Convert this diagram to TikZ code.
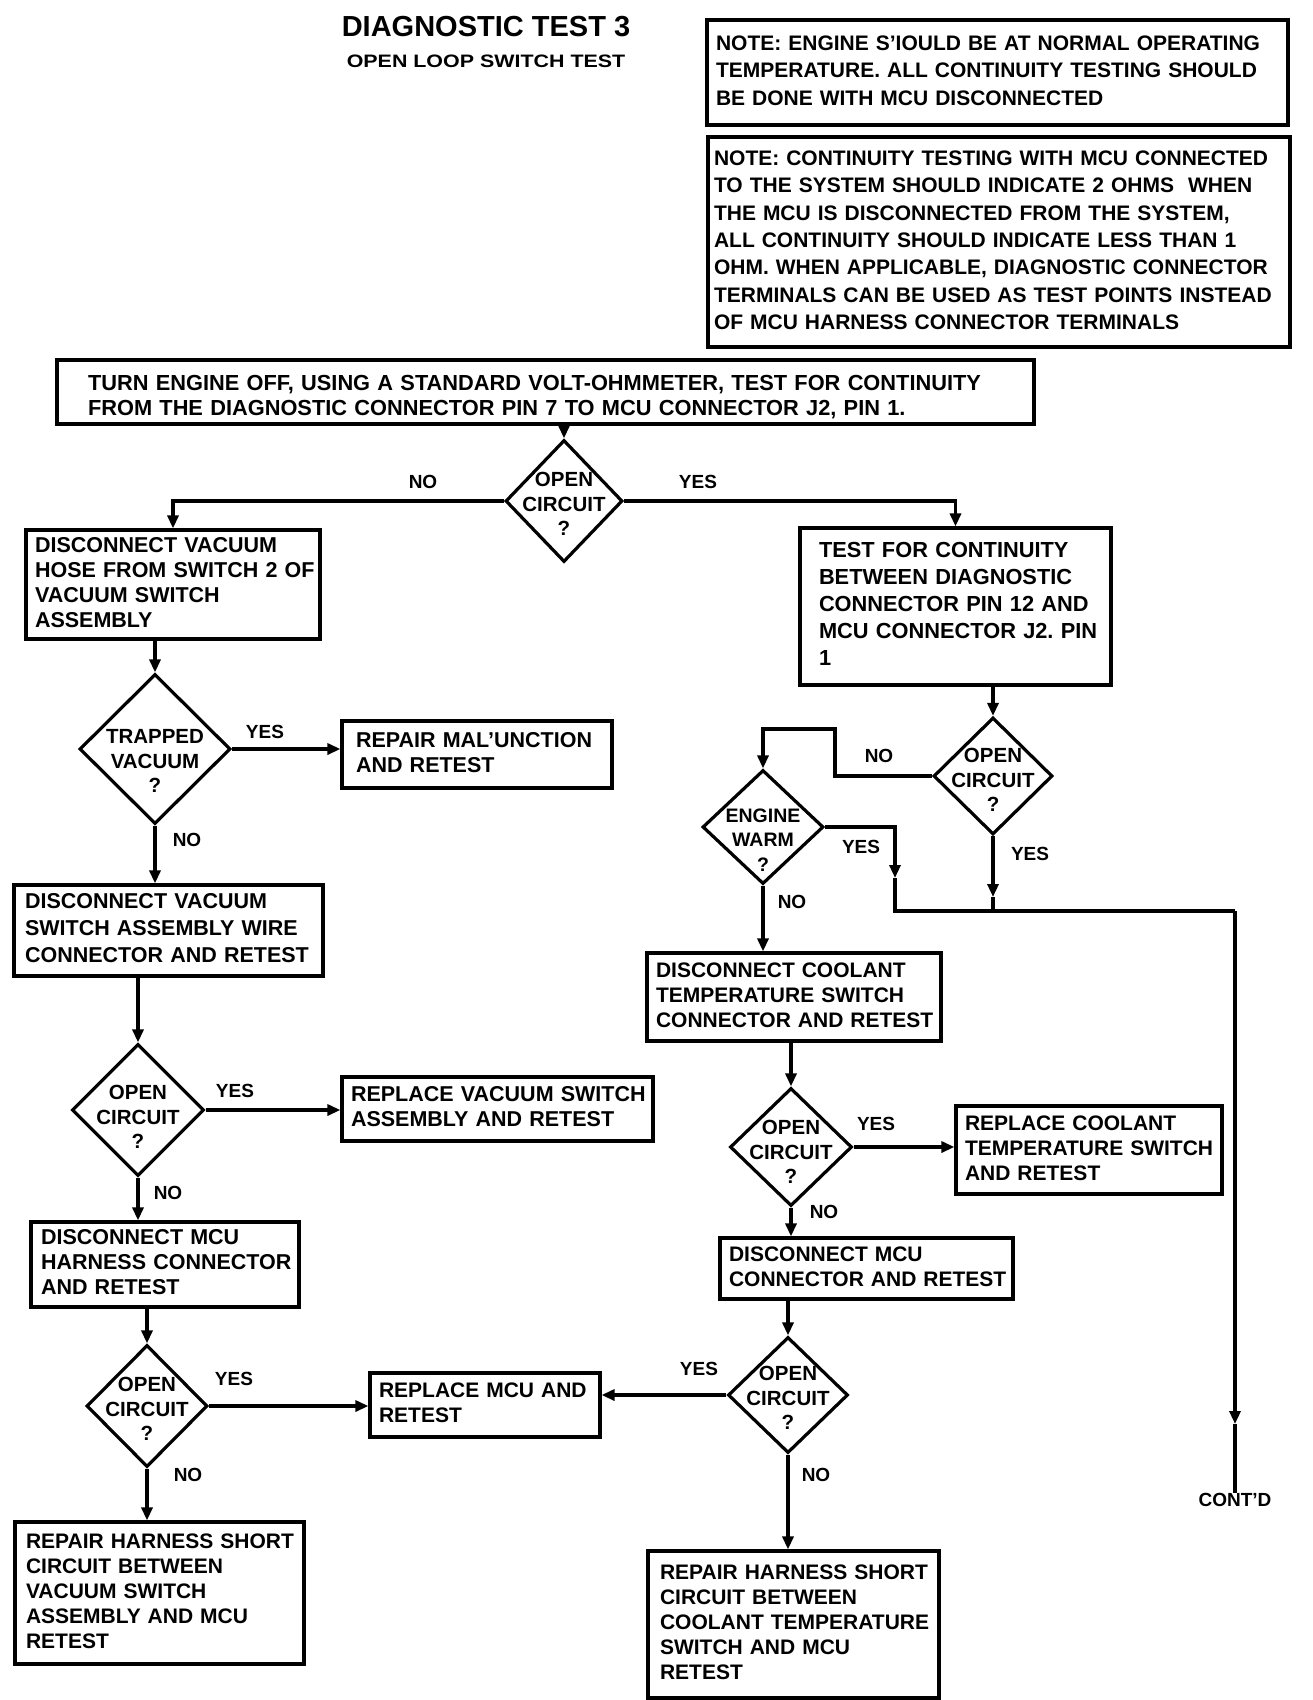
\documentclass[tikz,border=0pt]{standalone}
\usepackage{fontspec}
\usepackage{graphicx}
\setmainfont{Liberation Sans}
\usetikzlibrary{arrows.meta,shapes.geometric,calc}
\newcommand\tlines[1]{\begin{tabular}{@{}l@{}}#1\end{tabular}}
\tikzset{
  ln/.style={line width=3.2pt},
  arr/.style={line width=3.2pt,-{Triangle[length=13pt,width=11pt]}},
  box/.style={draw,line width=3.2pt,inner xsep=9pt,inner ysep=0pt,align=left,
    font=\fontsize{21.5}{25}\selectfont\bfseries\frenchspacing},
  rbox/.style={box,font=\fontsize{21}{25}\selectfont\bfseries\frenchspacing},
  notebox/.style={box,font=\fontsize{21}{27.3}\selectfont\bfseries\frenchspacing},
  dia/.style={draw,diamond,line width=3.2pt,inner sep=0pt},
  dtext/.style={align=center,inner sep=0pt,font=\fontsize{20.5}{24.5}\selectfont\bfseries},
  lbl/.style={inner sep=0pt,font=\fontsize{19}{22}\selectfont\bfseries},
}
\begin{document}
\begin{tikzpicture}[x=1pt,y=-1pt]
\useasboundingbox[fill=white] (0,0) rectangle (1312,1700);

% title
\node[inner sep=0pt,font=\fontsize{29}{32}\selectfont\bfseries] (title) at (486,27) {DIAGNOSTIC TEST 3};
\node[inner sep=0pt,font=\fontsize{18}{22}\selectfont\bfseries] (subtitle) at (486,61) {\scalebox{1.19}[1]{OPEN LOOP SWITCH TEST}};

% notes
\node[notebox,minimum width=581pt,minimum height=105pt,text width=563pt] (note1) at (997.5,72.5)
 {\tlines{NOTE: ENGINE S'IOULD BE AT NORMAL OPERATING\\TEMPERATURE. ALL CONTINUITY TESTING SHOULD\\BE DONE WITH MCU DISCONNECTED}};
\node[notebox,inner xsep=6pt,minimum width=582pt,minimum height=210pt,text width=570pt] (note2) at (999,242)
 {\tlines{NOTE: CONTINUITY TESTING WITH MCU CONNECTED\\TO THE SYSTEM SHOULD INDICATE 2 OHMS\ \ WHEN\\THE MCU IS DISCONNECTED FROM THE SYSTEM,\\ALL CONTINUITY SHOULD INDICATE LESS THAN 1\\OHM. WHEN APPLICABLE, DIAGNOSTIC CONNECTOR\\TERMINALS CAN BE USED AS TEST POINTS INSTEAD\\OF MCU HARNESS CONNECTOR TERMINALS}};

% top box
\node[box,inner xsep=31pt,font=\fontsize{21.8}{25}\selectfont\bfseries\frenchspacing,minimum width=977pt,minimum height=64pt,text width=915pt] (top) at (545.5,392)
 {\raisebox{-6pt}[\height][\depth]{\tlines{TURN ENGINE OFF, USING A STANDARD VOLT-OHMMETER, TEST FOR CONTINUITY\\FROM THE DIAGNOSTIC CONNECTOR PIN 7 TO MCU CONNECTOR J2, PIN 1.}}};

% diamonds
\node[dia,minimum width=117pt,minimum height=122pt] (d1) at (564,501) {};
\node[dtext] (d1t) at ([yshift=-3pt]d1.center) {OPEN\\CIRCUIT\\?};
\node[dia,minimum width=151pt,minimum height=150pt] (dt) at (155,749) {};
\node[dtext] (dtt) at ([yshift=-12pt]dt.center) {TRAPPED\\VACUUM\\?};
\node[dia,minimum width=132pt,minimum height=132pt] (d2) at (138,1110) {};
\node[dtext] (d2t) at ([yshift=-7pt]d2.center) {OPEN\\CIRCUIT\\?};
\node[dia,minimum width=121pt,minimum height=122pt] (d3) at (147,1406) {};
\node[dtext] (d3t) at ([yshift=-3pt]d3.center) {OPEN\\CIRCUIT\\?};
\node[dia,minimum width=119pt,minimum height=117pt] (r1) at (993,776) {};
\node[dtext] (r1t) at ([yshift=-4pt]r1.center) {OPEN\\CIRCUIT\\?};
\node[dia,minimum width=121pt,minimum height=114pt] (ew) at (763,827) {};
\node[dtext,font=\fontsize{19.5}{24.5}\selectfont\bfseries] (ewt) at ([yshift=-13pt]ew.center) {ENGINE\\WARM\\?};
\node[dia,minimum width=122pt,minimum height=118pt] (d4) at (791,1147) {};
\node[dtext] (d4t) at ([yshift=-5pt]d4.center) {OPEN\\CIRCUIT\\?};
\node[dia,minimum width=120pt,minimum height=116pt] (d5) at (788,1395) {};
\node[dtext] (d5t) at ([yshift=-3pt]d5.center) {OPEN\\CIRCUIT\\?};

% left column boxes
\node[box,minimum width=294pt,minimum height=109pt,text width=276pt] (b1) at (173,584.5)
 {\tlines{DISCONNECT VACUUM\\HOSE FROM SWITCH 2 OF\\VACUUM SWITCH\\ASSEMBLY}};
\node[box,inner xsep=14pt,minimum width=270pt,minimum height=67pt,text width=242pt] (rm) at (477,754.5)
 {\tlines{REPAIR MAL'UNCTION\\AND RETEST}};
\node[box,inner xsep=11pt,font=\fontsize{21.5}{27}\selectfont\bfseries,minimum width=309pt,minimum height=91pt,text width=287pt] (b3) at (168.5,930.5)
 {\tlines{DISCONNECT VACUUM\\SWITCH ASSEMBLY WIRE\\CONNECTOR AND RETEST}};
\node[box,minimum width=311pt,minimum height=64pt,text width=293pt] (rvs) at (497.5,1109)
 {\tlines{REPLACE VACUUM SWITCH\\ASSEMBLY AND RETEST}};
\node[box,inner xsep=10pt,minimum width=268pt,minimum height=85pt,text width=248pt] (b4) at (165,1264.5)
 {\tlines{DISCONNECT MCU\\HARNESS CONNECTOR\\AND RETEST}};
\node[rbox,minimum width=230pt,minimum height=64pt,text width=212pt] (rmcu) at (485,1405)
 {\tlines{REPLACE MCU AND\\RETEST}};
\node[rbox,inner xsep=11pt,minimum width=289pt,minimum height=142pt,text width=267pt] (rh1) at (159.5,1593)
 {\tlines{REPAIR HARNESS SHORT\\CIRCUIT BETWEEN\\VACUUM SWITCH\\ASSEMBLY AND MCU\\RETEST}};

% right column boxes
\node[box,inner xsep=19pt,font=\fontsize{21.8}{27}\selectfont\bfseries\frenchspacing,minimum width=311pt,minimum height=157pt,text width=273pt] (b2) at (955.5,606.5)
 {\tlines{TEST FOR CONTINUITY\\BETWEEN DIAGNOSTIC\\CONNECTOR PIN 12 AND\\MCU CONNECTOR J2. PIN\\1}};
\node[rbox,minimum width=294pt,minimum height=88pt,text width=276pt] (b5) at (794,997)
 {\tlines{DISCONNECT COOLANT\\TEMPERATURE SWITCH\\CONNECTOR AND RETEST}};
\node[rbox,minimum width=266pt,minimum height=88pt,text width=248pt] (rc) at (1089,1150)
 {\tlines{REPLACE COOLANT\\TEMPERATURE SWITCH\\AND RETEST}};
\node[rbox,minimum width=293pt,minimum height=61pt,text width=275pt] (b6) at (866.5,1268.5)
 {\tlines{DISCONNECT MCU\\CONNECTOR AND RETEST}};
\node[rbox,inner xsep=12pt,minimum width=291pt,minimum height=147pt,text width=267pt] (rh2) at (793.5,1624.5)
 {\tlines{REPAIR HARNESS SHORT\\CIRCUIT BETWEEN\\COOLANT TEMPERATURE\\SWITCH AND MCU\\RETEST}};

\node[lbl] (contd) at (1235,1500) {CONT'D};

% helper coordinates
\coordinate (c1) at (835,729);
\coordinate (jA) at (895,878);
\coordinate (jB) at (895,911);
\coordinate (jC) at (993,897);
\coordinate (jD) at (993,911);
\coordinate (jE) at (1235,911);
\coordinate (jF) at (1235,1424);

% connectors
\draw[arr] (d1.north |- top.south) -- (d1.north);
\draw[arr] (d1.west) -| (b1.north);
\draw[arr] (d1.east) -| (b2.north);
\draw[arr] (dt.north |- b1.south) -- (dt.north);
\draw[arr] (dt.east) -- (dt.east -| rm.west);
\draw[arr] (dt.south) -- (dt.south |- b3.north);
\draw[arr] (d2.north |- b3.south) -- (d2.north);
\draw[arr] (d2.east) -- (d2.east -| rvs.west);
\draw[arr] (d2.south) -- (d2.south |- b4.north);
\draw[arr] (d3.north |- b4.south) -- (d3.north);
\draw[arr] (d3.east) -- (d3.east -| rmcu.west);
\draw[arr] (d3.south) -- (d3.south |- rh1.north);

\draw[arr] (r1.north |- b2.south) -- (r1.north);
\draw[arr] (r1.west) -| (c1) -| (ew.north);
\draw[arr] (ew.east) -| (jA);
\draw[ln] (jA) -- (jB) -- (jE);
\draw[arr] (r1.south) -- (jC);
\draw[ln] (jC) -- (jD);
\draw[arr] (jE) -- (jF);
\draw[ln] (jF) -- (contd.north);
\draw[arr] (ew.south) -- (ew.south |- b5.north);
\draw[arr] (d4.north |- b5.south) -- (d4.north);
\draw[arr] (d4.east) -- (d4.east -| rc.west);
\draw[arr] (d4.south) -- (d4.south |- b6.north);
\draw[arr] (d5.north |- b6.south) -- (d5.north);
\draw[arr] (d5.west) -- (d5.west -| rmcu.east);
\draw[arr] (d5.south) -- (d5.south |- rh2.north);

% labels
\node[lbl] (l1) at (423,482) {NO};
\node[lbl] (l2) at (698,482) {YES};
\node[lbl] (l3) at (265,732) {YES};
\node[lbl] (l4) at (187,840) {NO};
\node[lbl] (l5) at (235,1091) {YES};
\node[lbl] (l6) at (168,1193) {NO};
\node[lbl] (l7) at (234,1379) {YES};
\node[lbl] (l8) at (188,1475) {NO};
\node[lbl] (l9) at (879,756) {NO};
\node[lbl] (l10) at (1030,854) {YES};
\node[lbl] (l11) at (861,847) {YES};
\node[lbl] (l12) at (792,902) {NO};
\node[lbl] (l13) at (876,1124) {YES};
\node[lbl] (l14) at (824,1212) {NO};
\node[lbl] (l15) at (699,1369) {YES};
\node[lbl] (l16) at (816,1475) {NO};
\end{tikzpicture}
\end{document}
